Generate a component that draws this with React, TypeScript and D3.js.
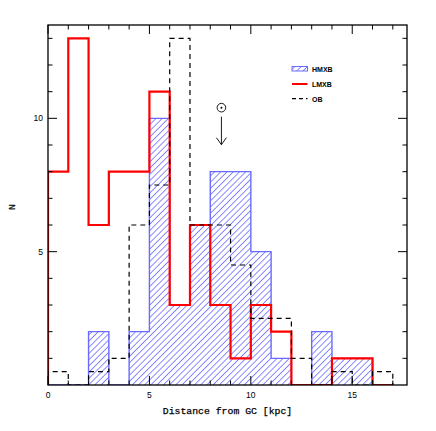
import React from "react";
import * as d3 from "d3";

const binStarts = [0, 1, 2, 3, 4, 5, 6, 7, 8, 9, 10, 11, 12, 13, 14, 15, 16];
const hmxb = [0, 0, 2, 0, 2, 10, 3, 6, 8, 8, 5, 1, 0, 2, 1, 1, 0];
const lmxb = [8, 13, 6, 8, 8, 11, 3, 6, 3, 1, 3, 2, 0, 0, 1, 1, 0];
const ob = [0.5, 0, 0.5, 1, 6, 7.5, 13, 6, 6, 4.5, 2.5, 2.5, 1, 0, 0.5, 0, 0.5];
const xTickMajor = [0, 5, 10, 15];
const yTickMajor = [5, 10];
const xMinor = [0, 1, 2, 3, 4, 5, 6, 7, 8, 9, 10, 11, 12, 13, 14, 15, 16, 17];
const yMinor = [1, 2, 3, 4, 5, 6, 7, 8, 9, 10, 11, 12, 13];
const legendItems = ["HMXB", "LMXB", "OB"];
const sunX = 8.55;
const sunY = 10.4;

const W = 436, H = 431;
const L = 48, R = 407, T = 25, B = 385;

export default function App() {
  const x = d3.scaleLinear().domain([0, 17.7]).range([L, R]);
  const y = d3.scaleLinear().domain([0, 13.5]).range([B, T]);

  const stepPts = (vals: number[]) => {
    const pts: [number, number][] = [[x(binStarts[0]), y(0)]];
    vals.forEach((v, i) => {
      pts.push([x(binStarts[i]), y(v)]);
      pts.push([x(binStarts[i] + 1), y(v)]);
    });
    pts.push([x(binStarts[binStarts.length - 1] + 1), y(0)]);
    return pts;
  };
  const line = d3.line();
  const hPath = line(stepPts(hmxb)) || "";
  const lPath = line(stepPts(lmxb)) || "";
  const oPath = line(stepPts(ob)) || "";

  const monoFont = "'Liberation Mono', 'DejaVu Sans Mono', monospace";
  const sansFont = "'Liberation Sans', Arial, sans-serif";
  const blueLine = "#6a6aff";
  const hatchCol = "#3434ff";

  const sx = x(sunX), sy = y(sunY);

  return (
    <svg width={W} height={H} style={{ position: "absolute", left: 0, top: 0, background: "#fff" }}>
      <defs>
        <pattern id="hatch" patternUnits="userSpaceOnUse" width={4.4} height={10} patternTransform="rotate(45)">
          <line x1={0} y1={0} x2={0} y2={10} stroke={hatchCol} strokeWidth={1.15} />
        </pattern>
        <clipPath id="plotClip">
          <rect x={L} y={T} width={R - L} height={B - T} />
        </clipPath>
      </defs>
      <rect x={0} y={0} width={W} height={H} fill="#fff" />
      <g clipPath="url(#plotClip)">
        <path d={hPath + "Z"} fill="url(#hatch)" stroke="none" />
        <path d={hPath} fill="none" stroke={blueLine} strokeWidth={1.4} />
        <path d={lPath} fill="none" stroke="#ff0000" strokeWidth={2.2} />
        <path d={oPath} fill="none" stroke="#000" strokeWidth={1.2} strokeDasharray="5,4" />
      </g>
      {/* frame */}
      <rect x={L} y={T} width={R - L} height={B - T} fill="none" stroke="#000" strokeWidth={1.3} />
      {/* ticks */}
      {xMinor.map((v) => {
        const big = xTickMajor.includes(v);
        const len = big ? 9 : 4.5;
        return (
          <g key={"xt" + v}>
            <line x1={x(v)} x2={x(v)} y1={B} y2={B - len} stroke="#000" strokeWidth={1} />
            <line x1={x(v)} x2={x(v)} y1={T} y2={T + len} stroke="#000" strokeWidth={1} />
          </g>
        );
      })}
      {yMinor.map((v) => {
        const big = yTickMajor.includes(v);
        const len = big ? 9 : 4.5;
        return (
          <g key={"yt" + v}>
            <line x1={L} x2={L + len} y1={y(v)} y2={y(v)} stroke="#000" strokeWidth={1} />
            <line x1={R} x2={R - len} y1={y(v)} y2={y(v)} stroke="#000" strokeWidth={1} />
          </g>
        );
      })}
      {xTickMajor.map((v) => (
        <text key={"xl" + v} x={x(v)} y={B + 13} textAnchor="middle" fontFamily={sansFont} fontSize={8.5} fill="#000">
          {v}
        </text>
      ))}
      {yTickMajor.map((v) => (
        <text key={"yl" + v} x={L - 5} y={y(v) + 3} textAnchor="end" fontFamily={sansFont} fontSize={8.5} fill="#000">
          {v}
        </text>
      ))}
      <text x={(L + R) / 2} y={414} textAnchor="middle" fontFamily={monoFont} fontSize={9.8} fill="#000" stroke="#000" strokeWidth={0.25}>
        Distance from GC [kpc]
      </text>
      <text transform={`translate(15,207) rotate(-90)`} textAnchor="middle" fontFamily={monoFont} fontSize={9.8} fill="#000" stroke="#000" strokeWidth={0.25}>
        N
      </text>
      {/* legend */}
      <g>
        <rect x={292} y={66.5} width={15.5} height={4.5} fill="url(#hatch)" stroke={blueLine} strokeWidth={1} />
        <line x1={292} x2={307.5} y1={84} y2={84} stroke="#ff0000" strokeWidth={2} />
        <line x1={292} x2={307.5} y1={98.7} y2={98.7} stroke="#000" strokeWidth={1.2} strokeDasharray="4,3" />
        {legendItems.map((t, i) => (
          <text key={t} x={312} y={[71.8, 86.8, 101.5][i]} fontFamily={sansFont} fontWeight="bold" fontSize={7} fill="#000">
            {t}
          </text>
        ))}
      </g>
      {/* sun symbol and arrow */}
      <circle cx={sx} cy={sy} r={4.3} fill="none" stroke="#000" strokeWidth={0.9} />
      <circle cx={sx} cy={sy} r={1} fill="#000" />
      <line x1={sx} x2={sx} y1={sy + 9} y2={sy + 37} stroke="#000" strokeWidth={0.9} />
      <path d={`M${sx - 5},${sy + 30} L${sx},${sy + 37} L${sx + 5},${sy + 30}`} fill="none" stroke="#000" strokeWidth={0.9} />
    </svg>
  );
}
